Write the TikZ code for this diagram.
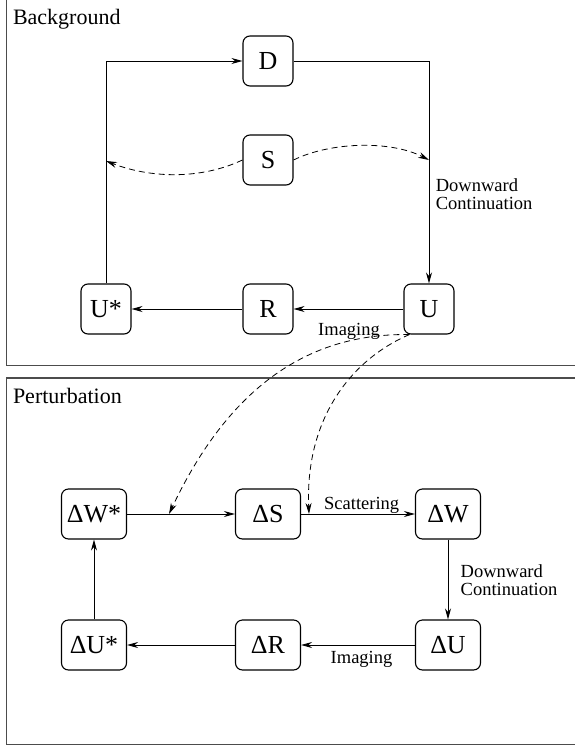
\documentclass[tikz,border=0pt]{standalone}
\usepackage{fontspec}
\setmainfont{Liberation Serif}
\usetikzlibrary{arrows.meta}
\begin{document}
\begin{tikzpicture}[x=1pt,y=-1pt,
  box/.style={draw, line width=1.1pt, rounded corners=7pt, minimum width=50pt, minimum height=50pt, inner sep=0pt, font=\fontsize{26}{28}\selectfont},
  wbox/.style={box, minimum width=65pt},
  arr/.style={line width=0.9pt, -{Stealth[length=11pt,width=6pt]}},
  darr/.style={line width=0.8pt, dash pattern=on 6pt off 4pt, -{Stealth[length=11pt,width=6pt]}},
  lab/.style={font=\fontsize{18.5}{18.5}\selectfont, inner sep=0pt},
  ttl/.style={font=\fontsize{22}{24}\selectfont, inner sep=0pt, anchor=base west},
  frm/.style={line width=1.3pt, black!70}]
\useasboundingbox (0,0) rectangle (574,747);
% frames
\draw[frm] (6.6,0) -- (6.6,365.5) -- (580,365.5);
\draw[frm] (580,378) -- (6.6,378) -- (6.6,744.5) -- (580,744.5);
\node[ttl] (tbg) at (12.8,24) {Background};
\node[ttl] (tpt) at (12.8,403) {Perturbation};
% background nodes
\node[box] (D) at (268,61) {D};
\node[box] (S) at (268,160) {S};
\node[box] (Us) at (106,309) {U*};
\node[box] (R) at (268,309) {R};
\node[box] (U) at (429,309) {U};
\draw[arr] (Us.north) |- (D.west);
\draw[arr] (D.east) -| (U.north);
\draw[arr] (U.west) -- (R.east);
\draw[arr] (R.west) -- (Us.east);
\coordinate (sl) at (106,161);
\coordinate (sr) at (429,160);
\draw[darr] (S.west) .. controls (200,180) and (150,178) .. (sl);
\draw[darr] (S.east) .. controls (330,142) and (390,140) .. (sr);
\node[lab, anchor=west, align=left] (ldc1) at (435.6,194) {Downward\\Continuation};
\node[lab, anchor=base west] (lim1) at (318,335) {Imaging};
% perturbation nodes
\node[wbox] (dWs) at (94,514) {ΔW*};
\node[wbox] (dS) at (268,514) {ΔS};
\node[wbox] (dW) at (448,514) {ΔW};
\node[wbox] (dUs) at (94,645) {ΔU*};
\node[wbox] (dR) at (268,645) {ΔR};
\node[wbox] (dU) at (448,645) {ΔU};
\draw[arr] (dWs.east) -- (dS.west);
\draw[arr] (dS.east) -- (dW.west);
\draw[arr] (dW.south) -- (dU.north);
\draw[arr] (dU.west) -- (dR.east);
\draw[arr] (dR.west) -- (dUs.east);
\draw[arr] (dUs.north) -- (dWs.south);
\node[lab, anchor=base west] (lsc) at (324,509) {Scattering};
\node[lab, anchor=west, align=left] (ldc2) at (460.5,580) {Downward\\Continuation};
\node[lab, anchor=base west] (lim2) at (330.5,663) {Imaging};
% dashed links from U
\coordinate (ua) at ([xshift=6pt]U.south west);
\coordinate (t1) at (169,514);
\coordinate (t2) at (309,514);
\draw[darr] (ua) .. controls (310,333) and (230,385) .. (t1);
\draw[darr] (ua) .. controls (350,360) and (305,420) .. (t2);
\end{tikzpicture}
\end{document}
